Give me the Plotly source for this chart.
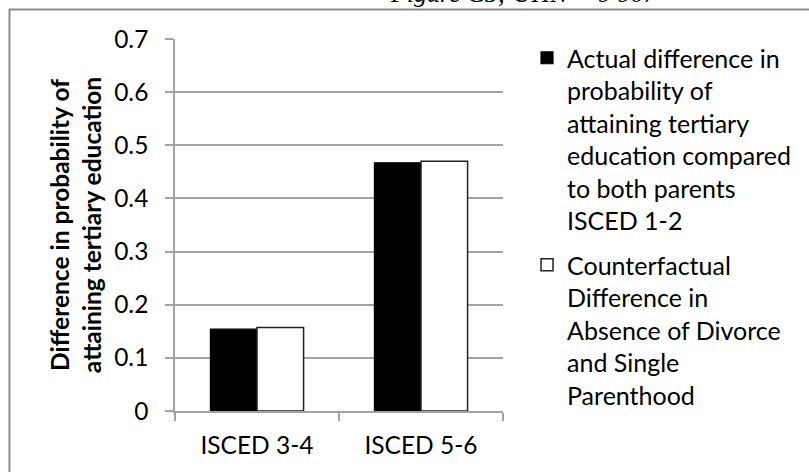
import plotly.graph_objects as go

categories = ["ISCED 3-4", "ISCED 5-6"]
actual = [0.154, 0.467]
counterfactual = [0.157, 0.470]
y_ticks = [0, 0.1, 0.2, 0.3, 0.4, 0.5, 0.6, 0.7]
y_tick_text = ["0", "0.1", "0.2", "0.3", "0.4", "0.5", "0.6", "0.7"]

name_actual = ("Actual difference in<br>probability of<br>attaining tertiary<br>"
               "education compared<br>to both parents<br>ISCED 1-2")
name_cf = ("Counterfactual<br>Difference in<br>Absence of Divorce<br>"
           "and Single<br>Parenthood")

W, H = 809, 472
ML, MR, MT, MB = 175, 306, 39, 61
PW, PH = W - ML - MR, H - MT - MB

FONT = "Lato"
FS = 24.5
GRID = "#a3a3a3"

fig = go.Figure()
fig.add_trace(go.Bar(
    x=categories, y=actual, name=name_actual, legendgroup="actual",
    marker=dict(color="black", line=dict(color="black", width=1.2)),
))
fig.add_trace(go.Bar(
    x=categories, y=counterfactual, name=name_cf, legendgroup="cf",
    marker=dict(color="white", line=dict(color="#222222", width=1.5)),
))


def px_to_paper_x(px):
    return (px - ML) / PW


def px_to_paper_y(py):
    return (H - MB - py) / PH


# outer chart frame (top and left edges visible)
fig.add_shape(type="rect", xref="paper", yref="paper",
              x0=px_to_paper_x(9.5), x1=px_to_paper_x(W + 50),
              y0=px_to_paper_y(H + 50), y1=px_to_paper_y(9.5),
              line=dict(color="#8c8c8c", width=2), fillcolor="rgba(0,0,0,0)",
              layer="below")

# caption above the frame
fig.add_annotation(text="<i>Figure C5; UHN = 9 907</i>", xref="paper", yref="paper",
                   x=px_to_paper_x(388), xanchor="left",
                   y=px_to_paper_y(-7), yanchor="middle",
                   showarrow=False,
                   font=dict(family="Liberation Serif", size=26, color="black"))

fig.update_layout(
    width=W, height=H,
    margin=dict(l=ML, r=MR, t=MT, b=MB, autoexpand=False),
    paper_bgcolor="white", plot_bgcolor="white",
    barmode="group", bargap=0.432, bargroupgap=0,
    font=dict(family=FONT, size=FS, color="black"),
    showlegend=True,
    legend=dict(
        x=px_to_paper_x(527), y=px_to_paper_y(35), xanchor="left", yanchor="top",
        valign="top", font=dict(family=FONT, size=25, color="black"),
        bgcolor="rgba(0,0,0,0)", tracegroupgap=9,
        itemwidth=30, maxheight=460,
    ),
    xaxis=dict(
        showline=True, linecolor=GRID, linewidth=1.5,
        ticks="outside", tickson="boundaries", ticklen=8, tickcolor=GRID, tickwidth=1.5,
        tickfont=dict(family=FONT, size=FS),
        ticklabelstandoff=12,
        showgrid=False, zeroline=False, fixedrange=True,
    ),
    yaxis=dict(
        range=[0, 0.7], tickvals=y_ticks, ticktext=y_tick_text,
        showline=True, linecolor=GRID, linewidth=1.5,
        ticks="outside", ticklen=8, tickcolor=GRID, tickwidth=1.5,
        showgrid=True, gridcolor=GRID, gridwidth=1.5,
        zeroline=False, fixedrange=True,
        tickfont=dict(family=FONT, size=FS),
        ticklabelstandoff=12,
        title=dict(text="<b>Difference in probability of<br>attaining tertiary education</b>",
                   font=dict(family=FONT, size=FS), standoff=6),
    ),
)

fig.write_html("out.html")
